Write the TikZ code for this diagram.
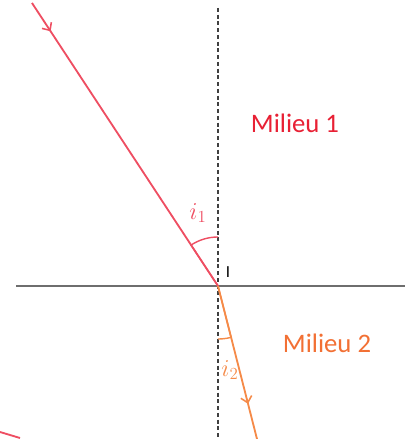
\documentclass[tikz,border=0pt]{standalone}
\usepackage{fontspec}
\setmainfont{Carlito}
\usepackage{amsmath}
\usetikzlibrary{decorations.markings, arrows.meta, calc}
\definecolor{rayone}{RGB}{238,78,98}
\definecolor{raytwo}{RGB}{245,138,72}
\definecolor{textone}{RGB}{232,32,52}
\definecolor{texttwo}{RGB}{242,112,52}
\definecolor{interface}{RGB}{110,110,110}
\tikzset{
  ray/.style={line width=1.3pt},
  anglemark/.style={line width=1pt},
  midarrow/.style={postaction={decorate, decoration={markings,
      mark=at position #1 with {\arrow{Straight Barb[length=1.5mm, width=2.8mm, line width=1.1pt]}}}}},
  normal/.style={line width=1.3pt, dash pattern=on 2.8pt off 2pt, black!75},
  medium/.style={font=\fontsize{19}{22}\selectfont},
  anglelbl/.style={font=\fontsize{17}{19}\selectfont},
}

\begin{document}
\begin{tikzpicture}[x=0.025cm, y=0.025cm]
  \useasboundingbox (0,0) rectangle (413,439);
  \coordinate (I) at (218,153);
  \coordinate (A) at (32,436);
  \coordinate (B) at (257,0);
  \coordinate (Ntop) at (218,431);
  \coordinate (Nbot) at (218,0);
  \draw[normal] (Ntop) -- (Nbot);
  \draw[interface, line width=1.5pt] (16,153) -- (405,153);
  % incident ray
  \draw[ray, rayone, midarrow=0.1] (A) -- (I);
  \draw[anglemark, rayone] (I) ++(90:1.225cm) arc[start angle=90, end angle=123.4, radius=1.225cm] -- (I);
  \node[anglelbl, rayone] (i1) at (198,226) {$i_1$};
  % refracted ray
  \draw[ray, raytwo, midarrow=0.77] (I) -- (B);
  \draw[anglemark, raytwo] (I) ++(270:1.325cm) arc[start angle=270, end angle=284.3, radius=1.325cm] -- (I);
  \node[anglelbl, raytwo] (i2) at (230,69) {$i_2$};
  \node[font=\fontsize{12}{14}\selectfont] (lblI) at (228,167) {I};
  \node[medium, textone] (m1) at (295,316) {Milieu 1};
  \node[medium, texttwo] (m2) at (327,96) {Milieu 2};
  \draw[ray, rayone] (0,7) -- (20,1);
\end{tikzpicture}
\end{document}
